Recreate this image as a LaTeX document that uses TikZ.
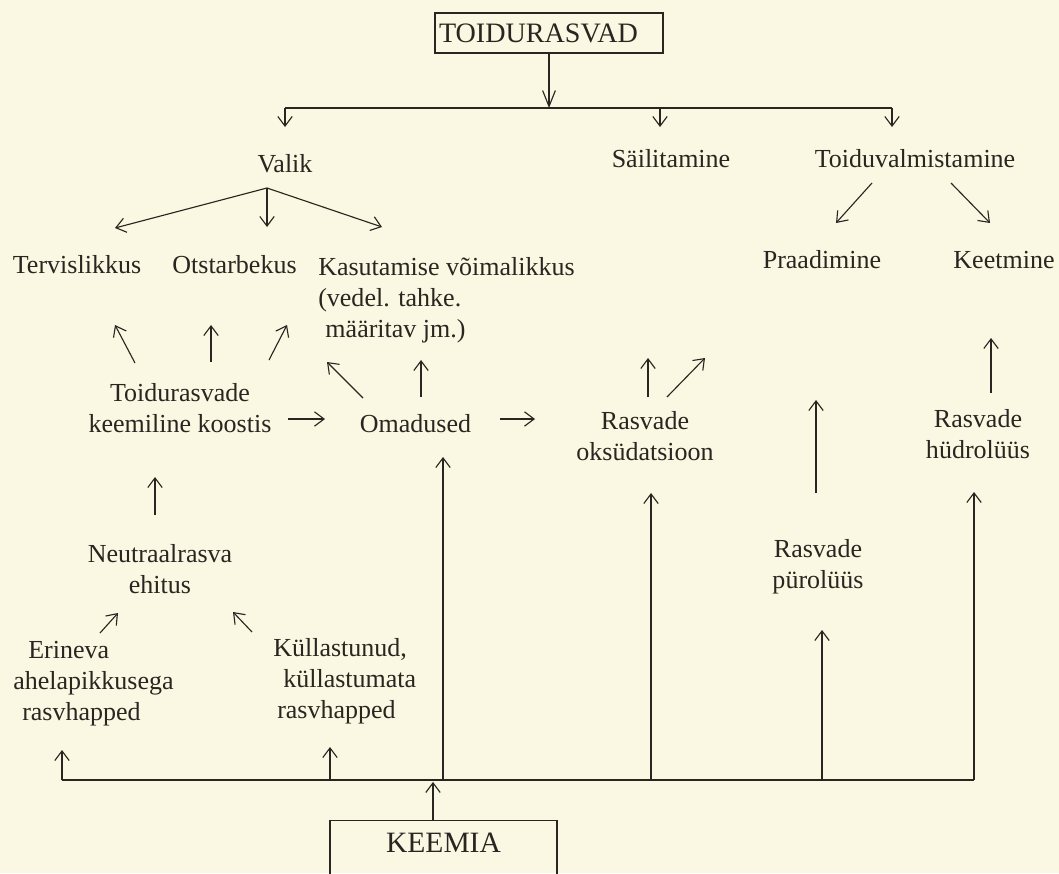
\documentclass[tikz,border=0pt]{standalone}
\usepackage{fontspec}
\setmainfont{Liberation Serif}
\usetikzlibrary{arrows.meta}
\definecolor{paper}{RGB}{250,247,226}
\definecolor{ink}{RGB}{40,38,32}

\begin{document}
\begin{tikzpicture}[>={Straight Barb[length=2.4mm,width=3.6mm]}, txt/.style={
  % The text:
  inner sep=0pt, anchor=base, align=center, text=ink,
  font=\fontsize{18.5pt}{21.7pt}\selectfont},
  lefttxt/.style={txt, anchor=base west, align=left},
  box/.style={
  % The border
  draw=ink, line width=0.8pt, inner sep=0pt, text=ink},
  line/.style={draw=ink, line width=0.8pt},
  arr/.style={line, ->}]

  % page and background
  \useasboundingbox[fill=paper] (0,0) rectangle (26.475,-21.825);
  \clip (0,0) rectangle (26.475,-21.825);

  \node [box, font=\fontsize{20pt}{24pt}\selectfont, minimum width=5.7cm,
    minimum height=1cm, text width=5.5cm, align=left] (title) at (13.725,-0.825) {TOIDURASVAD};

  \node [txt] (valik) at (7.125,-4.3) {Valik};
  \node [txt] (sail) at (16.775,-4.175) {Säilitamine};
  \node [txt] (toiduv) at (22.875,-4.175) {Toiduvalmistamine};

  % multi-line nodes sit on the baseline of their last line
  \node [txt] (terv) at (1.925,-6.825) {Tervislikkus};
  \node [txt] (otst) at (5.8625,-6.825) {Otstarbekus};
  \node [lefttxt] (kasut) at (7.95,-8.425) {Kasutamise võimalikkus\\(vedel. tahke.\\\hspace*{0.18cm}määritav jm.)};
  \node [txt] (praad) at (20.55,-6.7) {Praadimine};
  \node [txt] (keet) at (25.1,-6.7) {Keetmine};

  \node [txt] (koostis) at (4.5,-10.8) {Toidurasvade\\keemiline koostis};
  \node [txt] (omad) at (10.3875,-10.8) {Omadused};
  \node [txt] (oks) at (16.125,-11.5) {Rasvade\\oksüdatsioon};
  \node [txt] (hudro) at (24.45,-11.45) {Rasvade\\hüdrolüüs};

  \node [txt] (neutr) at (4.0,-14.825) {Neutraalrasva\\ehitus};
  \node [txt] (puro) at (20.45,-14.7) {Rasvade\\pürolüüs};
  \node [lefttxt] (erin) at (0.325,-18.0) {\hspace*{0.375cm}Erineva\\ahelapikkusega\\\hspace*{0.225cm}rasvhapped};
  \node [lefttxt] (kull) at (6.825,-17.95) {Küllastunud,\\\hspace*{0.25cm}küllastumata\\\hspace*{0.1cm}rasvhapped};

  \node [box, font=\fontsize{21pt}{25pt}\selectfont, minimum width=5.675cm,
    inner ysep=0.3cm, text depth=1cm, anchor=base] (keemia) at (11.0875,-21.3) {KEEMIA};

  % top branch
  \coordinate (barL) at (7.125,-2.7);
  \coordinate (barR) at (22.3,-2.7);
  \draw [line] (barL) -- (barR);
  \draw [arr, >={Straight Barb[length=4mm,width=3.2mm]}] (title.south) -- (title.south |- barL);
  \draw [arr] (barL) -- ++(0,-0.475);
  \draw [arr] (barL) ++(9.375,0) -- ++(0,-0.475);
  \draw [arr] (barR) -- ++(0,-0.475);

  \coordinate (vfork) at ([shift={(-0.45,-0.4)}]valik.base);
  \draw [arr] (vfork) -- ++(-3.8,-1.0);
  \draw [arr] (vfork) -- ++(0,-0.975);
  \draw [arr] (vfork) -- ++(2.875,-0.975);

  \draw [arr] (toiduv.base) ++(-1.075,-0.4) -- ++(-0.9,-1.0);
  \draw [arr] (toiduv.base) ++(0.9,-0.4) -- ++(0.975,-1.0);

  % middle arrows
  \draw [arr] (koostis.base) ++(-1.125,1.725) -- ++(-0.5,0.95);
  \draw [arr] (koostis.base) ++(0.775,1.75) -- ++(0,0.925);
  \draw [arr] (koostis.base) ++(2.225,1.8) -- ++(0.45,0.875);
  \draw [arr] (koostis.base) ++(2.7,0.325) -- ++(0.925,0);

  \draw [arr] (omad.base) ++(-1.3125,0.85) -- ++(-0.9,0.9);
  \draw [arr] (omad.base) ++(0.1375,0.875) -- ++(0,0.925);
  \draw [arr] (omad.base) ++(2.1125,0.325) -- ++(0.875,0);

  \draw [arr] (oks.base) ++(0.075,1.575) -- ++(0,0.975);
  \draw [arr] (oks.base) ++(0.55,1.575) -- ++(0.95,0.975);

  \draw [arr] (puro.base) ++(-0.05,2.375) -- ++(0,2.325);
  \draw [arr] (hudro.base) ++(0.325,1.625) -- ++(0,1.375);

  \draw [arr] (neutr.base) ++(-0.125,1.95) -- ++(0,0.95);
  \draw [arr] (neutr.base) ++(-1.5,-1.0) -- ++(0.45,0.5);
  \draw [arr] (neutr.base) ++(2.3,-0.975) -- ++(-0.475,0.5);

  % bottom bus from KEEMIA
  \coordinate (bus) at (0,-19.5);
  \draw [line] (bus) ++(1.55,0) -- ++(22.8,0);
  \foreach \x/\h in {1.55/0.75, 8.25/0.825, 11.075/8.075, 16.275/7.175, 20.55/3.75, 24.35/7.2}
    \draw [arr] (bus) ++(\x,0) -- ++(0,\h);
  \draw [arr] ([xshift=-0.2625cm]keemia.north) -- ++(0,0.95);

\end{tikzpicture}
\end{document}
